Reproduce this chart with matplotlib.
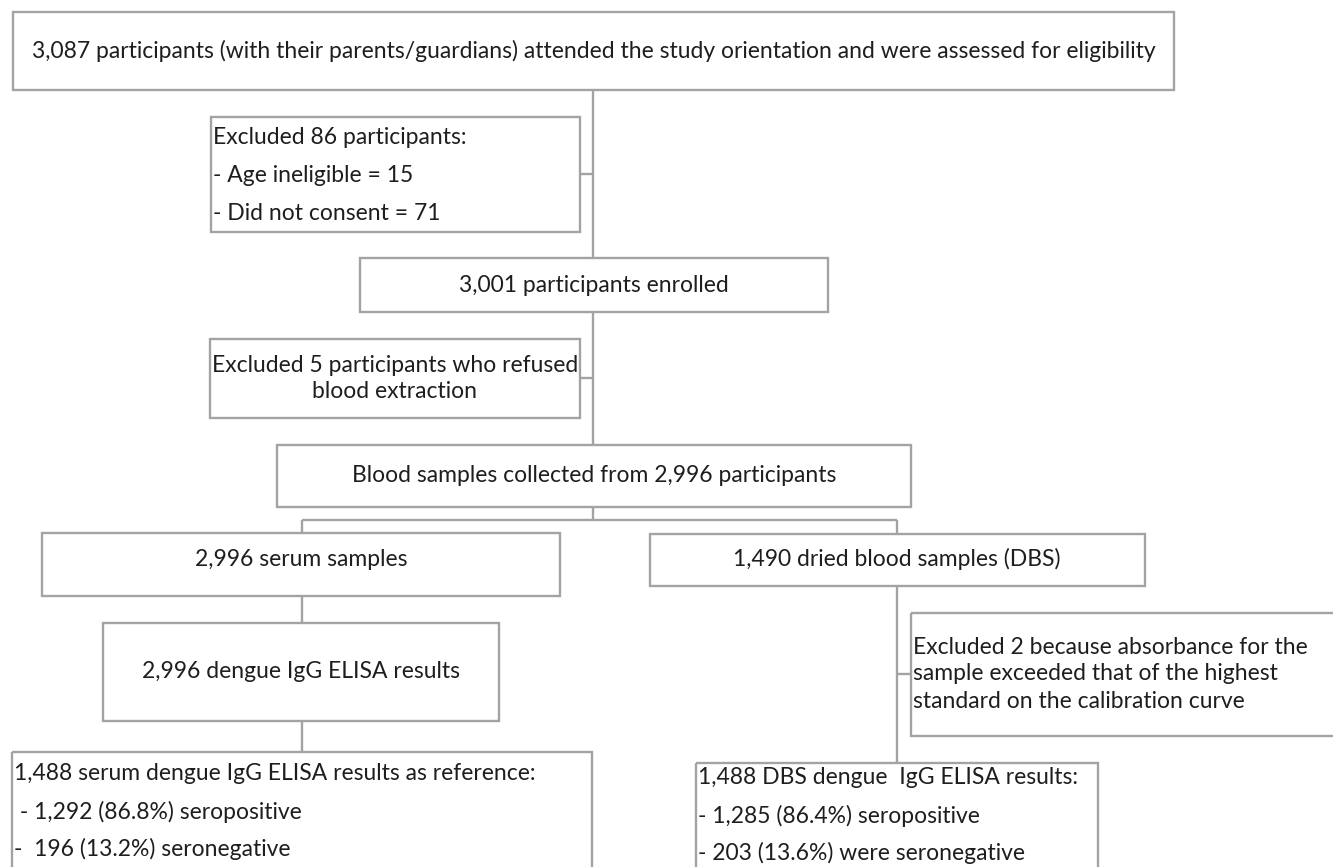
import matplotlib.pyplot as plt
from matplotlib.patches import Rectangle

plt.rcParams['font.family'] = ['Liberation Sans Narrow', 'Lato', 'DejaVu Sans']

#%%
# texts of the flowchart
top_text = "3,087 participants (with their parents/guardians) attended the study orientation and were assessed for eligibility"
excl86_lines = ["Excluded 86 participants:", "- Age ineligible = 15", "- Did not consent = 71"]
enrolled_text = "3,001 participants enrolled"
excl5_lines = ["Excluded 5 participants who refused", "blood extraction"]
blood_text = "Blood samples collected from 2,996 participants"
serum_text = "2,996 serum samples"
dbs_text = "1,490 dried blood samples (DBS)"
elisa_text = "2,996 dengue IgG ELISA results"
excl2_lines = ["Excluded 2 because absorbance for the",
               "sample exceeded that of the highest",
               "standard on the calibration curve"]
serum_res_lines = ["1,488 serum dengue IgG ELISA results as reference:",
                   " - 1,292 (86.8%) seropositive",
                   "-  196 (13.2%) seronegative"]
dbs_res_lines = ["1,488 DBS dengue  IgG ELISA results:",
                 "- 1,285 (86.4%) seropositive",
                 "- 203 (13.6%) were seronegative"]

#%%
# layout in pixels (x0, y0, x1, y1), y going down
line_col = '#a3a3a3'
txt_col = '#1e1e1e'
lw = 1.7

fig = plt.figure(figsize=(13.33, 8.67), dpi=100)
ax = fig.add_axes([0, 0, 1, 1])
ax.set_xlim(0, 1333)
ax.set_ylim(867, 0)
ax.axis('off')

#fit the font size to the width of the top line
probe = ax.text(0, 0, top_text, fontsize=20)
fig.canvas.draw()
w = probe.get_window_extent().width
probe.remove()
fs = 20 * 1126 / w


def box(x0, y0, x1, y1):
    ax.add_patch(Rectangle((x0, y0), x1 - x0, y1 - y0, fill=False,
                           edgecolor=line_col, lw=lw))


def line(xs, ys):
    ax.plot(xs, ys, color=line_col, lw=lw, solid_capstyle='butt')


def ctext(x, y, s):
    ax.text(x, y, s, ha='center', va='center', fontsize=fs, color=txt_col)


def ltext(x, ys, lines, ha='left'):
    for y, s in zip(ys, lines):
        ax.text(x, y, s, ha=ha, va='center', fontsize=fs, color=txt_col)


#connectors
line([593, 593], [90, 258])
line([580, 593], [174, 174])
line([593, 593], [312, 445])
line([580, 593], [378, 378])
line([593, 593], [507, 520])
line([302, 897], [520, 520])
line([302, 302], [520, 533])
line([897, 897], [520, 534])
line([302, 302], [596, 623])
line([302, 302], [721, 752])
line([897, 897], [586, 763])
line([897, 911], [674, 674])

#boxes
box(13, 12, 1174, 90)
ctext(594, 51, top_text)

box(211, 117, 580, 232)
ltext(213, [137, 175, 213], excl86_lines)

box(360, 258, 828, 312)
ctext(594, 285, enrolled_text)

box(210, 339, 580, 418)
ltext(395, [365, 392], excl5_lines, ha='center')

box(277, 445, 911, 507)
ctext(594, 475, blood_text)

box(42, 533, 560, 596)
ctext(301, 559, serum_text)

box(650, 534, 1145, 586)
ctext(897, 559, dbs_text)

box(103, 623, 499, 721)
ctext(301, 671, elisa_text)

box(911, 613, 1345, 736)
ltext(913, [648, 674, 701], excl2_lines)

box(12, 752, 592, 890)
ltext(14, [774, 812, 849], serum_res_lines)

box(696, 763, 1098, 890)
ltext(698, [778, 816, 853], dbs_res_lines)

fig.savefig('out.png', dpi=100)
